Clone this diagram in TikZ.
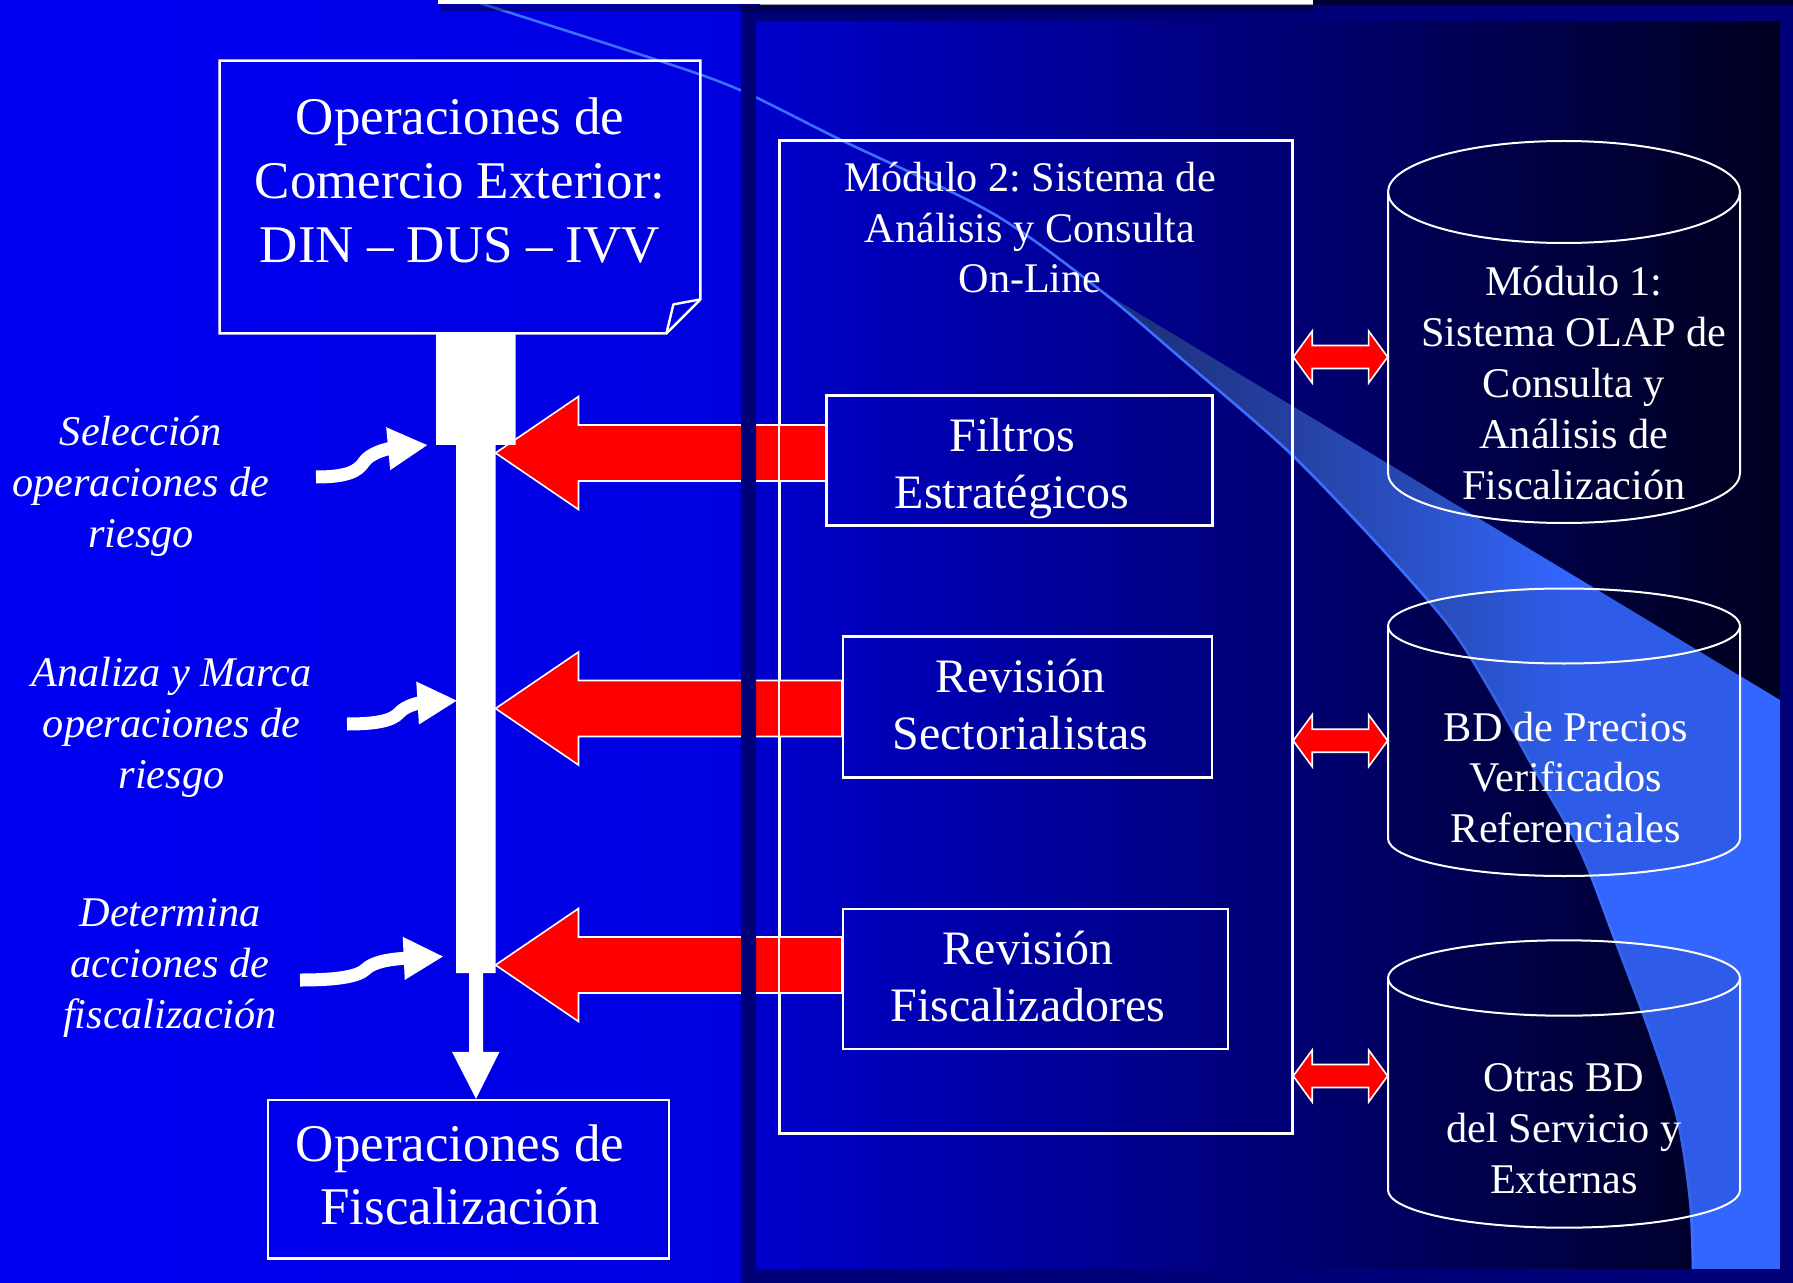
\documentclass[tikz,border=0pt]{standalone}
\usepackage{fontspec}
\setmainfont{Liberation Serif}
\usetikzlibrary{fit,calc,arrows.meta}
\frenchspacing
\definecolor{bgL}{RGB}{0,0,245}
\definecolor{bgR}{RGB}{0,0,222}
\definecolor{pnlL}{RGB}{0,0,205}
\definecolor{pnlR}{RGB}{0,0,32}
\definecolor{navyframe}{RGB}{0,0,120}
\definecolor{topdark}{RGB}{0,0,55}
\definecolor{swA}{RGB}{28,44,118}
\definecolor{swB}{RGB}{38,66,165}
\definecolor{swC}{RGB}{44,86,210}
\definecolor{swD}{RGB}{51,102,255}
\definecolor{swline}{RGB}{60,110,255}
\definecolor{arrred}{RGB}{255,0,0}
\pgfdeclarehorizontalshading{swoosh}{100bp}{color(0bp)=(swA); color(25bp)=(swA); color(35.5bp)=(swB); color(42.8bp)=(swC); color(48.7bp)=(swD); color(100bp)=(swD)}
\newcommand{\bigredarrow}[2]{%
  \draw[redarr] (#1) -- ++(83,-56.5) -- ++(0,28.5) -- ($(#2)+(0,-28)$) -- ($(#2)+(0,28)$) -- ($(#1)+(83,28)$) -- ++(0,28.5) -- cycle;}
\newcommand{\dblarrow}[2]{%
  \draw[redarr] (#1) -- ++(19,-26) -- ++(0,14.5) -- ($(#2)+(-19,-11.5)$) -- ++(0,-14.5) -- (#2) -- ++(-19,26) -- ++(0,-14.5) -- ($(#1)+(19,11.5)$) -- ++(0,14.5) -- cycle;}
\begin{document}
\begin{tikzpicture}[x=0.5pt,y=-0.5pt,
  outl/.style={draw=white, line width=1.2pt},
  boxst/.style={draw=white, line width=1.2pt, inner sep=0pt},
  cylline/.style={draw=white, line width=1pt},
  redarr/.style={fill=arrred, draw=white, line width=0.8pt, line join=miter},
  curvy/.style={draw=white, line width=6.5pt, -{Triangle[length=20pt,width=20pt]}},
  bigtxt/.style={text=white, inner sep=0pt, align=center, font=\fontsize{26.5}{31.9}\selectfont},
  midtxt/.style={text=white, inner sep=0pt, align=center, font=\fontsize{24}{28.5}\selectfont},
  smalltxt/.style={text=white, inner sep=0pt, align=center, font=\fontsize{21.15}{25.4}\selectfont},
  itxt/.style={text=white, inner sep=0pt, align=center, font=\fontsize{21.15}{25.5}\selectfont\itshape}
]
\useasboundingbox (0,0) rectangle (1793,1283);
% backgrounds
\fill[left color=bgL, right color=bgR] (0,0) rectangle (760,1283);
\fill[left color=pnlL, right color=pnlR] (756,21) rectangle (1780,1269);
% decorative swoosh
\begin{scope}
\clip (1100,290) -- (1780,700) -- (1780,1269) -- plot[smooth] coordinates {(1693,1269) (1690,1200) (1677,1117) (1650,1033) (1615,940) (1580,850) (1533,767) (1490,690) (1450,627) (1383,550) (1290,453) (1183,360) (1100,290)} -- cycle;
\shade[shading=swoosh] (1100,290) rectangle (2079,1269);
\end{scope}
\draw[swline, line width=1.3pt] plot[smooth] coordinates {(470,0) (657,60) (740,90) (841,140) (992,213) (1100,290) (1183,360) (1290,453) (1383,550) (1450,627) (1490,690) (1533,767) (1580,850) (1615,940) (1650,1033) (1677,1117) (1690,1200) (1693,1269)};
% boxes (nodes)
\node[boxst, fit={(780,141) (1292,1133)}] (mod2) {};
\node[boxst, fit={(827,396) (1212,525)}] (filtros) {};
\node[boxst, fit={(843,636.5) (1212,777.6)}] (sect) {};
\node[boxst, fit={(843,909) (1228,1048.7)}] (fisc) {};
\node[boxst, fit={(268,1100) (668.8,1258.5)}] (botbox) {};
\node[inner sep=0pt, fit={(220,61) (700,333)}] (topbox) {};
\node[inner sep=0pt, fit={(1388,141) (1740,523)}] (db1) {};
\node[inner sep=0pt, fit={(1388,588.5) (1740,876)}] (db2) {};
\node[inner sep=0pt, fit={(1388,940.3) (1740,1227.7)}] (db3) {};
% big red arrows
\coordinate (a1) at (495.5,453);
\coordinate (a2) at (495.5,708.5);
\coordinate (a3) at (495.5,965);
\bigredarrow{a1}{a1 -| filtros.west}
\bigredarrow{a2}{a2 -| sect.west}
\bigredarrow{a3}{a3 -| fisc.west}
% frame
\fill[navyframe, even odd rule] (741,5) rectangle (1793,1283) (756,21) rectangle (1780,1269);
\fill[topdark] (1313,0) rectangle (1793,5);
\fill[black, opacity=0.3] (440,4) rectangle (1313,11);
\fill[white] (438,0) rectangle (1313,4);
% redraw box outlines on top
\draw[boxst] (mod2.north west) rectangle (mod2.south east);
\draw[boxst] (filtros.north west) rectangle (filtros.south east);
% top box with folded corner
\draw[outl] (topbox.north west) -- (topbox.north east) -- ($(topbox.south east)+(0,-34)$) -- ($(topbox.south east)+(-34,0)$) -- (topbox.south west) -- cycle;
\draw[outl, line join=round] ($(topbox.south east)+(0,-34)$) -- ($(topbox.south east)+(-27,-29)$) -- ($(topbox.south east)+(-34,0)$);
% cylinders
\foreach \ct/\cb/\ryt/\ryb in {192/473/51/50, 626/838.5/37.5/37.5, 978/1190/37.7/37.7}{
  \fill[black, fill opacity=0.09] (1388,\ct) -- (1388,\cb) arc[start angle=180, end angle=0, x radius=176, y radius=\ryb] -- (1740,\ct) arc[start angle=0, end angle=-180, x radius=176, y radius=\ryt] -- cycle;
  \draw[cylline] (1564,\ct) ellipse[x radius=176, y radius=\ryt];
  \draw[cylline] (1388,\ct) -- (1388,\cb) arc[start angle=180, end angle=0, x radius=176, y radius=\ryb] -- (1740,\ct);
}
% double red arrows
\coordinate (d1) at (1340,357);
\coordinate (d2) at (1340,740.7);
\coordinate (d3) at (1340,1076);
\dblarrow{d1 -| mod2.east}{d1 -| db1.west}
\dblarrow{d2 -| mod2.east}{d2 -| db2.west}
\dblarrow{d3 -| mod2.east}{d3 -| db3.west}
% white trunk from top box to bottom box
\coordinate (tx) at (476,0);
\coordinate (tt) at (topbox.south -| tx);
\coordinate (tb) at (botbox.north -| tx);
\fill[white] ($(tt)+(-40,0)$) -- ($(tt)+(39.5,0)$) -- ($(tt)+(39.5,111.5)$) -- ($(tt)+(19.5,111.5)$) -- ($(tt)+(19.5,639.6)$) -- ($(tt)+(7,639.6)$) -- ($(tb)+(7,-47)$) -- ($(tb)+(23.5,-47)$) -- (tb) -- ($(tb)+(-24,-47)$) -- ($(tb)+(-7,-47)$) -- ($(tt)+(-7,639.6)$) -- ($(tt)+(-20,639.6)$) -- ($(tt)+(-20,111.5)$) -- ($(tt)+(-40,111.5)$) -- cycle;
% texts
\node[bigtxt] (toptext) at (460,186) {\strut Operaciones de\\\strut Comercio Exterior:\\\strut DIN – DUS – IVV};
\node[bigtxt, font=\fontsize{26.5}{31.15}\selectfont] (bottext) at (460,1180.5) {\strut Operaciones de\\\strut Fiscalización};
\node[midtxt] (filtrostext) at (1012,469) {\strut Filtros\\\strut Estratégicos};
\node[midtxt] (secttext) at (1020.5,710) {\strut Revisión\\\strut Sectorialistas};
\node[midtxt] (fisctext) at (1028,982) {\strut Revisión\\\strut Fiscalizadores};
\node[smalltxt, font=\fontsize{21.1}{25.3}\selectfont] (mod2text) at (1030,232) {\strut Módulo 2: Sistema de\\\strut Análisis y Consulta\\\strut On-Line};
\node[smalltxt] (db1text) at (1574,387.3) {\strut Módulo 1:\\\strut Sistema OLAP de\\\strut Consulta y\\\strut Análisis de\\\strut Fiscalización};
\node[smalltxt] (db2text) at (1566,781.8) {\strut BD de Precios\\\strut Verificados\\\strut Referenciales};
\node[smalltxt] (db3text) at (1564,1132.3) {\strut Otras BD\\\strut del Servicio y\\\strut Externas};
\node[itxt] (lab1) at (141,486.3) {\strut Selección\\\strut operaciones de\\\strut riesgo};
\node[itxt] (lab2) at (171.5,727) {\strut Analiza y Marca\\\strut operaciones de\\\strut riesgo};
\node[itxt] (lab3) at (170,967) {\strut Determina\\\strut acciones de\\\strut fiscalización};
% curved white arrows from labels to trunk
\coordinate (c1s) at (316,477);
\coordinate (c1e) at (428,445);
\coordinate (c2s) at (347,724);
\coordinate (c2e) at (457.5,700.6);
\coordinate (c3s) at (300,980);
\coordinate (c3e) at (443.7,956.5);
\draw[curvy] (c1s) .. controls (348,477) and (358,471) .. (364,462) .. controls (369,454) and (385,449) .. (c1e);
\draw[curvy] (c2s) .. controls (375,724) and (392,721) .. (399,713) .. controls (405,706) and (418,703) .. (c2e);
\draw[curvy] (c3s) .. controls (335,980) and (358,977) .. (366,969) .. controls (373,962) and (390,959) .. (c3e);
\end{tikzpicture}
\end{document}
